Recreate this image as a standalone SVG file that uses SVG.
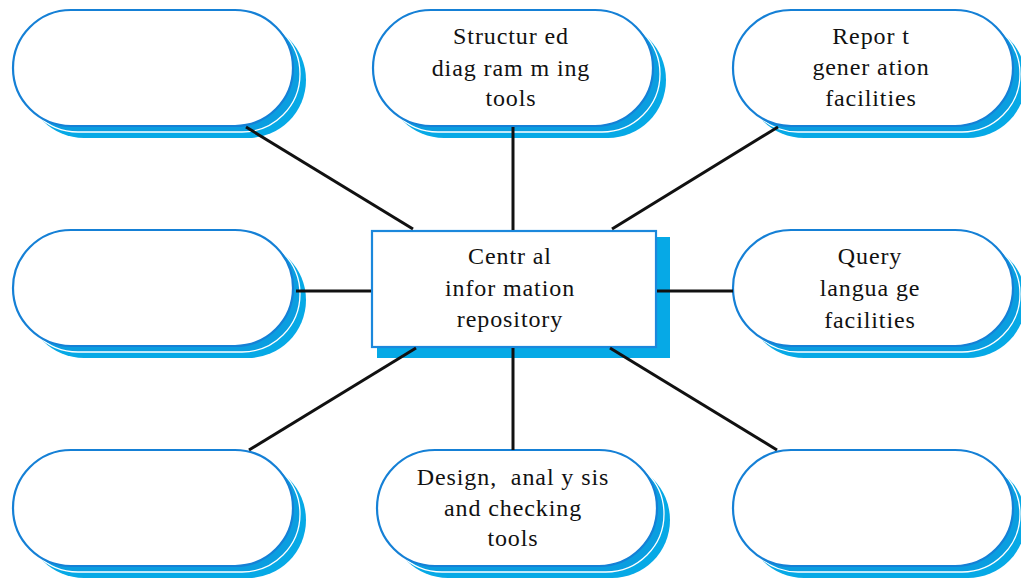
<svg xmlns="http://www.w3.org/2000/svg" width="1021" height="582" viewBox="0 0 1021 582">
<defs>
<style>
.sh1{fill:#06a9e6;}
.sh2{fill:#0a9ee0;stroke:#ffffff;stroke-width:1.3;}
.pill{fill:#ffffff;stroke:#1580d6;stroke-width:2.2;}
.lbl{font-family:"Liberation Serif","Times New Roman",serif;font-size:24px;letter-spacing:0.9px;fill:#111111;text-anchor:middle;}
.conn{stroke:#111111;stroke-width:3;fill:none;}
</style>
<g id="pillShape">
<rect class="sh1" x="13" y="12" width="280" height="116" rx="58" ry="58"/>
<rect class="sh2" x="7" y="6" width="280" height="116" rx="58" ry="58"/>
<rect class="pill" x="0" y="0" width="280" height="116" rx="58" ry="58"/>
</g>
</defs>
<rect width="1021" height="582" fill="#ffffff"/>
<g id="node-top-left">
<use href="#pillShape" x="13" y="10"/>
</g>
<g id="node-structured">
<use href="#pillShape" x="373" y="10"/>
<text class="lbl" x="511" y="44">Structur ed</text>
<text class="lbl" x="511" y="76">diag ram m ing</text>
<text class="lbl" x="511" y="106">tools</text>
</g>
<g id="node-report">
<use href="#pillShape" x="733" y="10"/>
<text class="lbl" x="871" y="44">Repor t</text>
<text class="lbl" x="871" y="75">gener ation</text>
<text class="lbl" x="871" y="106">facilities</text>
</g>
<g id="node-mid-left">
<use href="#pillShape" x="13" y="230"/>
</g>
<g id="node-central">
<rect x="377" y="237" width="293" height="121" fill="#06a9e6"/>
<rect x="372" y="231" width="284" height="116" fill="#ffffff" stroke="#1b88dc" stroke-width="2.2"/>
<text class="lbl" x="510" y="264">Centr al</text>
<text class="lbl" x="510" y="296">infor mation</text>
<text class="lbl" x="510" y="327">repository</text>
</g>
<g id="node-query">
<use href="#pillShape" x="733" y="230"/>
<text class="lbl" x="870" y="264">Query</text>
<text class="lbl" x="870" y="296">langua ge</text>
<text class="lbl" x="870" y="328">facilities</text>
</g>
<g id="node-bottom-left">
<use href="#pillShape" x="13" y="450"/>
</g>
<g id="node-design">
<use href="#pillShape" x="377" y="450"/>
<text class="lbl" x="513" y="485" xml:space="preserve">Design,  anal y sis</text>
<text class="lbl" x="513" y="516">and checking</text>
<text class="lbl" x="513" y="546">tools</text>
</g>
<g id="node-bottom-right">
<use href="#pillShape" x="733" y="450"/>
</g>
<g id="connectors">
<line class="conn" x1="246" y1="127" x2="413" y2="229"/>
<line class="conn" x1="513" y1="127" x2="513" y2="230"/>
<line class="conn" x1="778" y1="127" x2="612" y2="229"/>
<line class="conn" x1="296" y1="291" x2="371" y2="291"/>
<line class="conn" x1="657" y1="291" x2="733" y2="291"/>
<line class="conn" x1="249" y1="450" x2="416" y2="348"/>
<line class="conn" x1="513" y1="348" x2="513" y2="450"/>
<line class="conn" x1="610" y1="348" x2="777" y2="450"/>
</g>
</svg>
